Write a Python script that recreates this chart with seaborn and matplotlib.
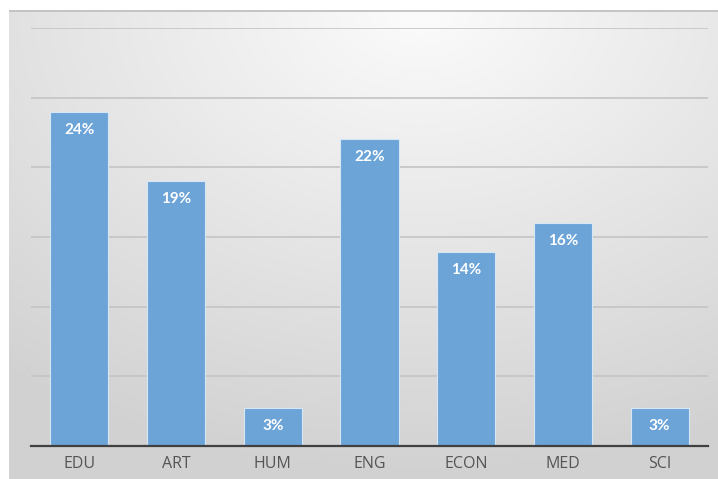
import numpy as np
import pandas as pd
import matplotlib
matplotlib.use("Agg")
import matplotlib.pyplot as plt
import seaborn as sns

categories = ["EDU", "ART", "HUM", "ENG", "ECON", "MED", "SCI"]
values = [24.0, 19.0, 2.7, 22.0, 13.9, 16.0, 2.7]
labels = ["24%", "19%", "3%", "22%", "14%", "16%", "3%"]

df = pd.DataFrame({"cat": categories, "val": values})

sns.set_theme(style="white")
plt.rcParams["font.family"] = ["Open Sans", "DejaVu Sans"]

W, H = 718, 479
fig = plt.figure(figsize=(W / 100, H / 100), dpi=100)
fig.patch.set_facecolor("white")

# gradient background frame
bg = fig.add_axes([9 / W, 0, (W - 9) / W, (H - 10) / H])
ny, nx = 300, 450
yy, xx = np.mgrid[0:1:ny * 1j, 0:1:nx * 1j]
d = np.sqrt(((xx - 0.58) / 1.0) ** 2 + ((yy - 0.0) / 1.05) ** 2)
d = np.clip(d / 0.95, 0, 1)
top = np.array([0.985, 0.985, 0.985])
bot = np.array([0.82, 0.82, 0.82])
img = top[None, None, :] * (1 - d[..., None]) + bot[None, None, :] * d[..., None]
bg.imshow(img, aspect="auto", extent=[0, 1, 1, 0], interpolation="bilinear")
bg.set_xlim(0, 1)
bg.set_ylim(1, 0)
bg.axis("off")
bg.plot([0, 1], [0.002, 0.002], color="#bdbdbd", lw=1.2)

ax = fig.add_axes([31 / W, 1 - 446 / H, 677 / W, (446 - 28) / H])
ax.patch.set_alpha(0)
sns.barplot(data=df, x="cat", y="val", color="#6ca4d8", saturation=1,
            width=0.6, edgecolor="#d6e6f5", linewidth=0.8, ax=ax, zorder=3)
ax.set_ylim(0, 30)
ax.set_xlim(-0.5, 6.5)
ax.set_yticks([0, 5, 10, 15, 20, 25, 30])
ax.set_yticklabels([])
ax.tick_params(axis="y", length=0)
ax.yaxis.grid(True, color="#c4c4c4", lw=1.2, zorder=0)
ax.set_axisbelow(True)
for s in ["top", "right", "left"]:
    ax.spines[s].set_visible(False)
ax.spines["bottom"].set_color("#404040")
ax.spines["bottom"].set_linewidth(1.6)
ax.spines["bottom"].set_zorder(5)
ax.set_xlabel("")
ax.set_ylabel("")
ax.tick_params(axis="x", length=0, pad=7, labelsize=11.5, labelcolor="#555555")

for i, (v, lab) in enumerate(zip(values, labels)):
    ax.annotate(lab, (i, v), xytext=(0, -18), textcoords="offset pixels",
                ha="center", va="center", color="white", fontweight="bold",
                fontsize=11, family=["Lato", "DejaVu Sans"], zorder=6)

fig.savefig("out.png", dpi=100)
